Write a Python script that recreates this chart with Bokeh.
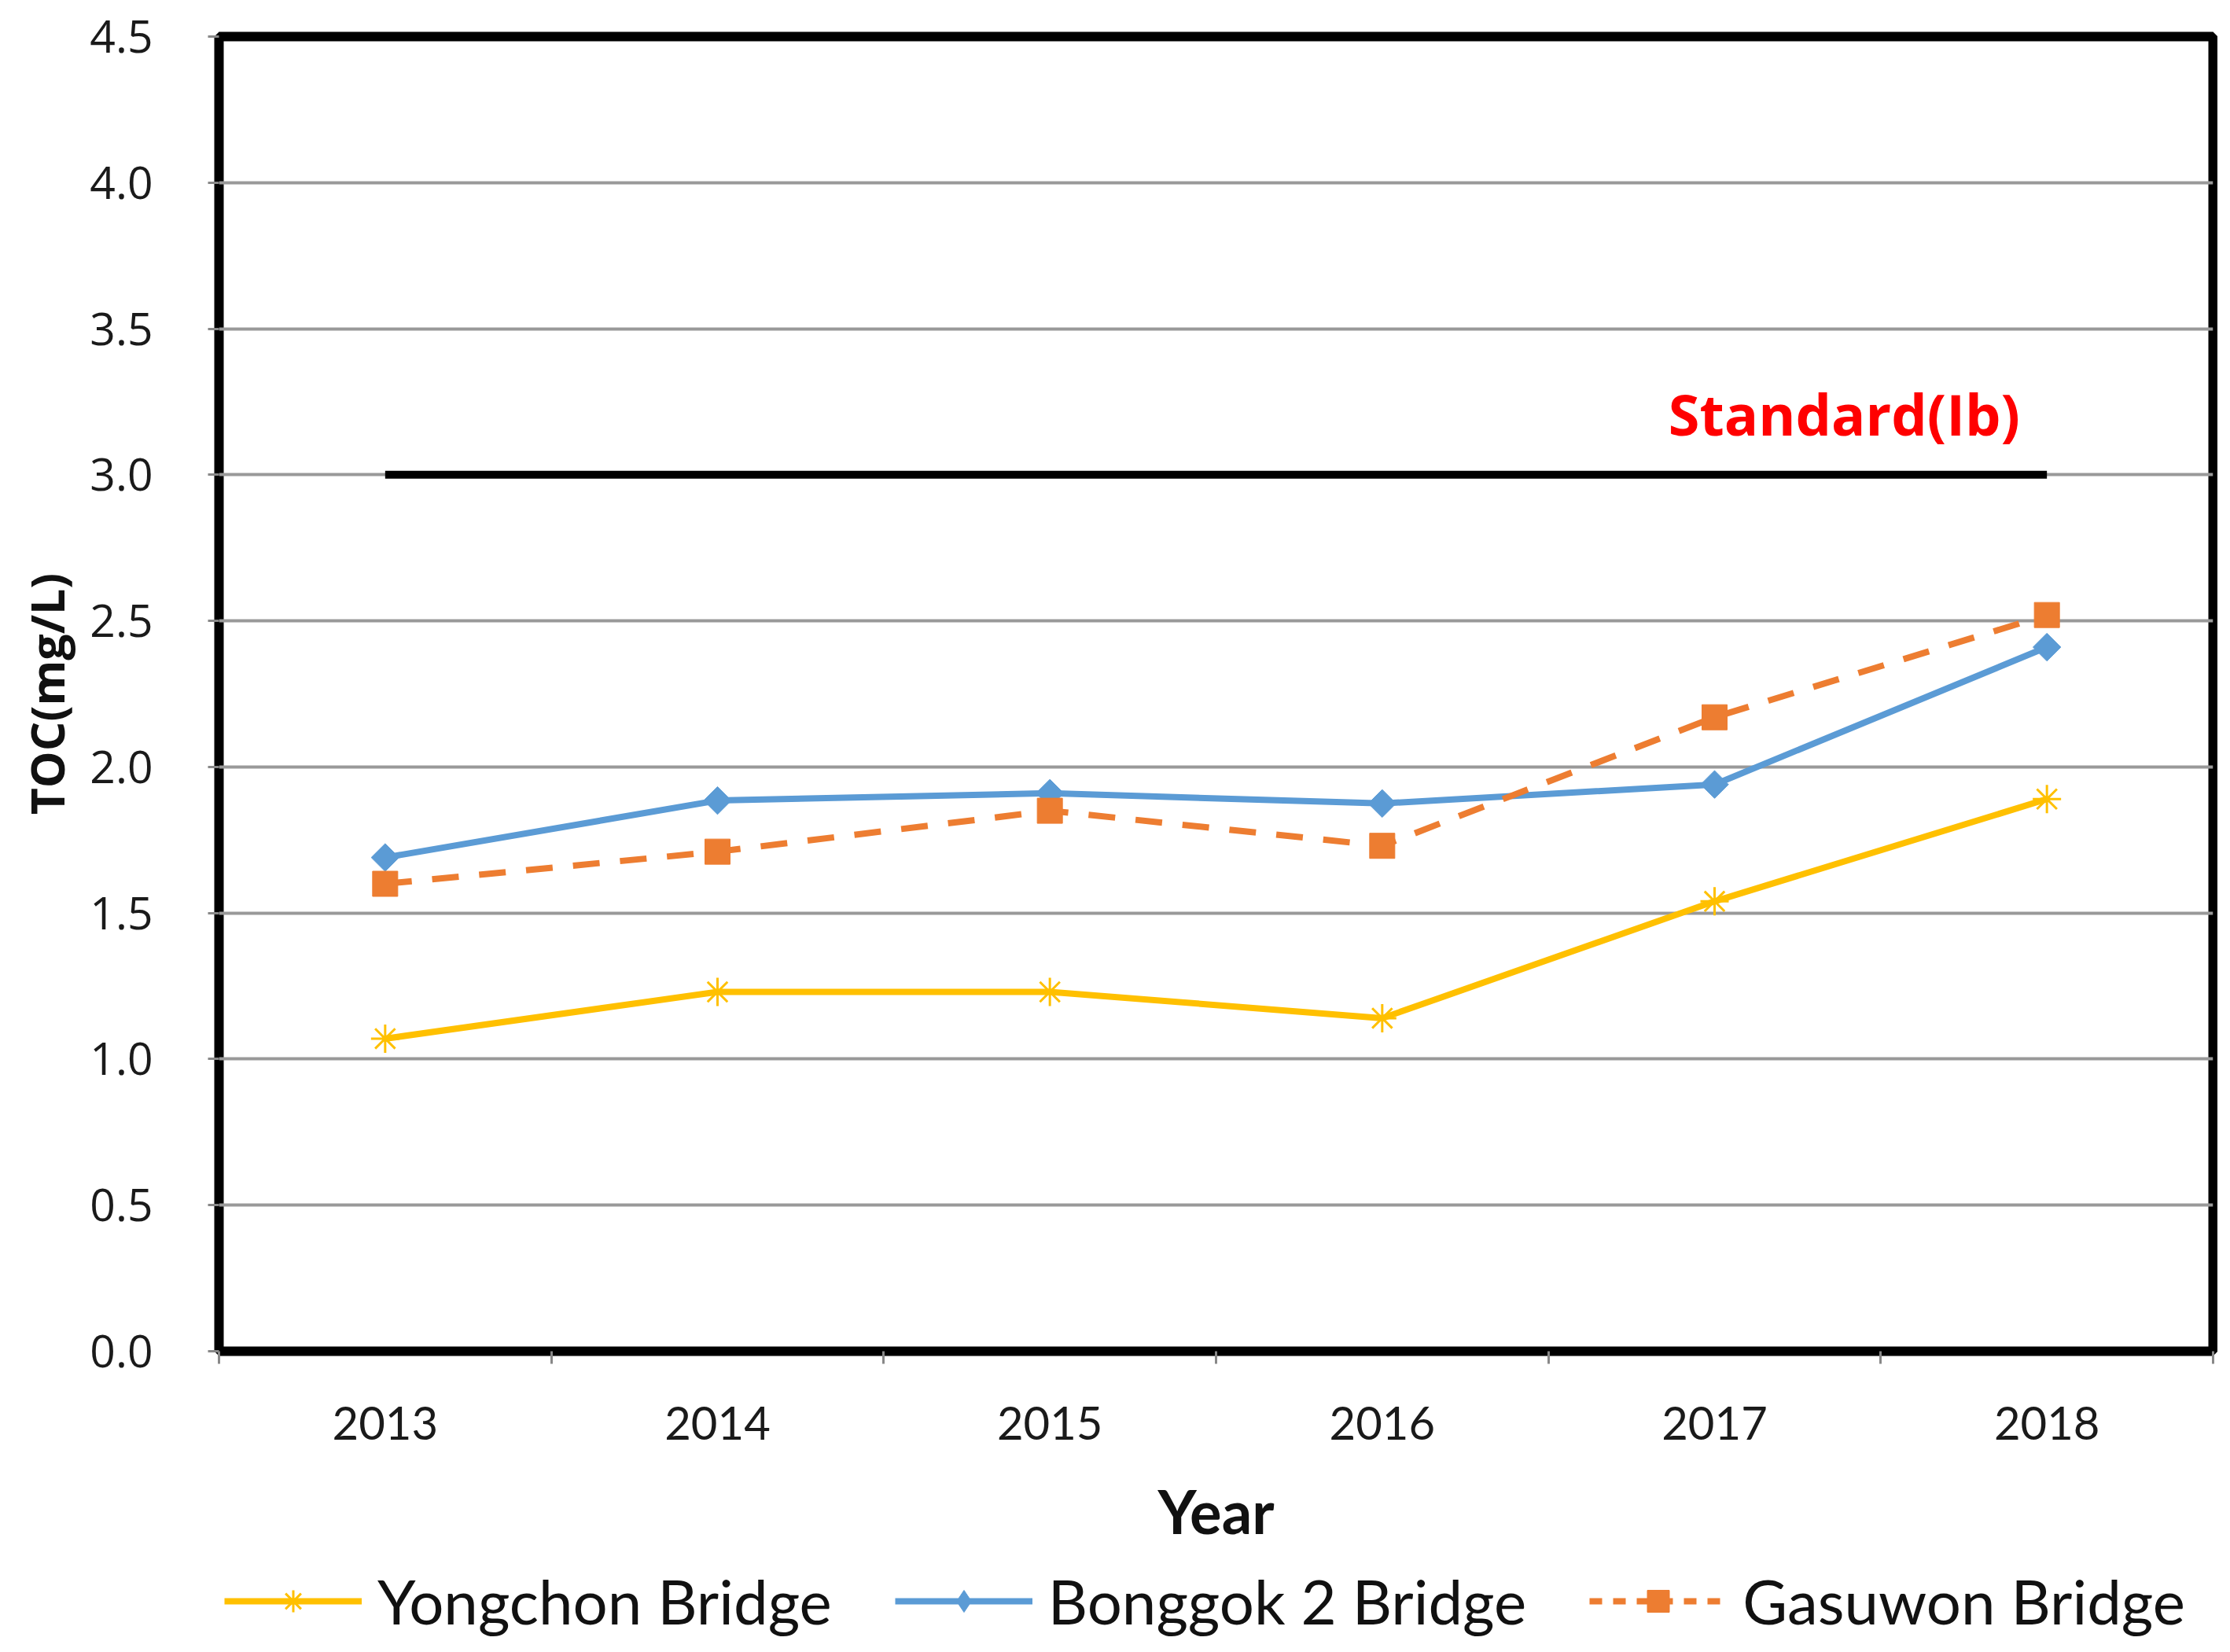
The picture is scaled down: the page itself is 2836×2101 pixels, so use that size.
import math
from bokeh.plotting import figure
from bokeh.layouts import column
from bokeh.models import (FixedTicker, NumeralTickFormatter, Legend, LegendItem,
                          Label, Range1d)
from bokeh.embed import file_html
from bokeh.resources import INLINE

# ---- data ----
years = ["2013", "2014", "2015", "2016", "2017", "2018"]
yongchon = [1.07, 1.23, 1.23, 1.14, 1.54, 1.89]
bonggok2 = [1.69, 1.885, 1.91, 1.875, 1.94, 2.41]
gasuwon = [1.60, 1.71, 1.85, 1.73, 2.17, 2.52]
standard_value = 3.0
standard_label = "Standard(Ib)"
y_ticks = [0.0, 0.5, 1.0, 1.5, 2.0, 2.5, 3.0, 3.5, 4.0, 4.5]
series_names = ["Yongchon Bridge", "Bonggok 2 Bridge", "Gasuwon Bridge"]

xs = list(range(len(years)))

YELLOW = "#FFC000"
BLUE = "#5B9BD5"
ORANGE = "#ED7D31"

W = 2820
H_LEG = 115
H_MAIN = 2085 - H_LEG

p = figure(width=W, height=H_MAIN, output_backend="svg", toolbar_location=None,
           x_range=Range1d(-0.5, len(years) - 0.5), y_range=Range1d(0, 4.5),
           min_border_left=278, min_border_top=46, min_border_right=6,
           min_border_bottom=367 - H_LEG)

p.background_fill_color = "white"
p.border_fill_color = "white"
p.outline_line_color = "black"
p.outline_line_width = 12

# grid
p.xgrid.grid_line_color = None
p.ygrid.ticker = FixedTicker(ticks=y_ticks)
p.ygrid.grid_line_color = "#999999"
p.ygrid.grid_line_width = 4

# y axis
yax = p.yaxis[0]
yax.ticker = FixedTicker(ticks=y_ticks)
yax.formatter = NumeralTickFormatter(format="0.0")
yax.axis_line_color = None
yax.major_tick_out = 14
yax.major_tick_in = 0
yax.major_tick_line_color = "#888888"
yax.major_tick_line_width = 3
yax.minor_tick_line_color = None
yax.major_label_standoff = 70
yax.major_label_text_font = "Open Sans"
yax.major_label_text_font_size = "57px"
yax.major_label_text_color = "#1a1a1a"
yax.axis_label = "TOC(mg/L)"
yax.axis_label_text_font = "Open Sans"
yax.axis_label_text_font_style = "bold"
yax.axis_label_text_font_size = "59px"
yax.axis_label_standoff = 12
yax.axis_label_text_color = "#111111"

# x axis
xax = p.xaxis[0]
xax.ticker = FixedTicker(ticks=xs, minor_ticks=[i - 0.5 for i in range(len(years) + 1)])
xax.major_label_overrides = {i: y for i, y in zip(xs, years)}
xax.axis_line_color = None
xax.major_tick_out = 0
xax.major_tick_in = 0
xax.major_tick_line_color = None
xax.minor_tick_out = 16
xax.minor_tick_in = 0
xax.minor_tick_line_color = "#888888"
xax.minor_tick_line_width = 3
xax.major_label_standoff = 54
xax.major_label_text_font = "Lato"
xax.major_label_text_font_size = "58px"
xax.major_label_text_color = "#1a1a1a"
xax.axis_label = "Year"
xax.axis_label_text_font = "Lato"
xax.axis_label_text_font_style = "bold"
xax.axis_label_text_font_size = "76px"
xax.axis_label_standoff = 42
xax.axis_label_text_color = "#111111"

# standard line
p.line(x=[xs[0], xs[-1]], y=[standard_value, standard_value], line_color="black",
       line_width=10)
p.add_layout(Label(x=4.39, y=3.21, text=standard_label, text_align="center",
                   text_baseline="middle", text_color="#FF0000",
                   text_font="Open Sans", text_font_style="bold",
                   text_font_size="72px"))

# series
STYLES = [
    dict(color=YELLOW, dash="solid", marker="asterisk", size=36, angle=0.0,
         leg_marker="asterisk"),
    dict(color=BLUE, dash="solid", marker="square", size=25, angle=math.pi / 4,
         leg_marker="diamond"),
    dict(color=ORANGE, dash="34 26", marker="square", size=32, angle=0.0,
         leg_marker="square"),
]
SERIES = [yongchon, bonggok2, gasuwon]
for vals, st in zip(SERIES, STYLES):
    p.line(xs, vals, line_color=st["color"], line_width=8, line_dash=st["dash"])
    p.scatter(xs, vals, marker=st["marker"], size=st["size"], angle=st["angle"],
              fill_color=st["color"], line_color=st["color"],
              line_width=3 if st["marker"] == "asterisk" else 1)

# ---- legend strip below the chart (series drawn out of view, legend only) ----
q = figure(width=W, height=H_LEG, output_backend="svg", toolbar_location=None,
           x_range=Range1d(-0.5, len(years) - 0.5), y_range=Range1d(100, 101),
           x_axis_location=None, y_axis_location=None,
           min_border_left=0, min_border_right=0, min_border_top=0,
           min_border_bottom=0)
q.grid.visible = False
q.outline_line_color = None
q.background_fill_color = "white"
q.border_fill_color = "white"

items = []
for name, vals, st in zip(series_names, SERIES, STYLES):
    lr = q.line(xs, vals, line_color=st["color"], line_width=8,
                line_dash="16 14" if st["dash"] != "solid" else "solid")
    mr = q.scatter(xs, vals, marker=st["leg_marker"], size=st["size"],
                   fill_color=st["color"], line_color=st["color"],
                   line_width=3 if st["marker"] == "asterisk" else 1)
    items.append(LegendItem(label=name, renderers=[lr, mr]))

legend = Legend(items=items, orientation="horizontal", location=(7, 2))
legend.label_text_font = "Lato"
legend.label_text_font_size = "78px"
legend.label_text_color = "#111111"
legend.glyph_width = 175
legend.glyph_height = 70
legend.label_standoff = 20
legend.spacing = 80
legend.padding = 5
legend.margin = 0
legend.border_line_color = None
legend.background_fill_alpha = 0
q.add_layout(legend)

layout = column(p, q, spacing=0)
open("out.html", "w").write(file_html(layout, INLINE))
